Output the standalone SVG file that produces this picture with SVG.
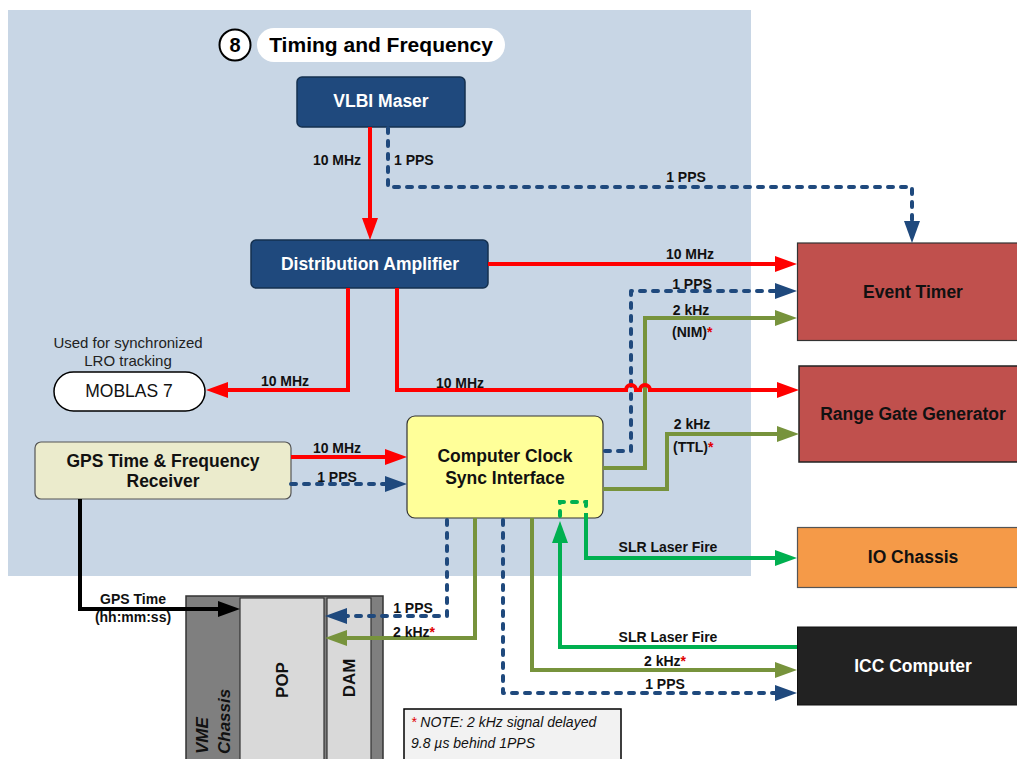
<svg xmlns="http://www.w3.org/2000/svg" width="1017" height="759" viewBox="0 0 1017 759">
<style>
.nt{font-family:"Liberation Sans",Arial,sans-serif;font-weight:bold;font-size:17.5px;text-anchor:middle}
.lb{font-family:"Liberation Sans",Arial,sans-serif;font-weight:bold;font-size:14px;text-anchor:middle;fill:#111}
.lbs{font-family:"Liberation Sans",Arial,sans-serif;font-weight:bold;font-size:14px;fill:#111}
.star{fill:#E00000}
.red{fill:none;stroke:#FF0000;stroke-width:4;stroke-linejoin:miter}
.blue{fill:none;stroke:#1F497D;stroke-width:4;stroke-dasharray:5 8;stroke-linecap:round;stroke-linejoin:round}
.olive{fill:none;stroke:#77933C;stroke-width:4;stroke-linejoin:miter}
.green{fill:none;stroke:#00B050;stroke-width:4;stroke-linejoin:miter}
.greend{fill:none;stroke:#00B050;stroke-width:4;stroke-dasharray:5 8;stroke-linecap:round}
.black{fill:none;stroke:#000;stroke-width:4;stroke-linejoin:miter}
</style>
<defs>
<marker id="aR" markerUnits="userSpaceOnUse" markerWidth="24" markerHeight="18" refX="12" refY="8" orient="auto"><path d="M0,0 L22,8 L0,16 z" fill="#FF0000"/></marker>
<marker id="aB" markerUnits="userSpaceOnUse" markerWidth="24" markerHeight="18" refX="12" refY="8" orient="auto"><path d="M0,0 L22,8 L0,16 z" fill="#1F497D"/></marker>
<marker id="aO" markerUnits="userSpaceOnUse" markerWidth="24" markerHeight="18" refX="12" refY="8" orient="auto"><path d="M0,0 L22,8 L0,16 z" fill="#77933C"/></marker>
<marker id="aG" markerUnits="userSpaceOnUse" markerWidth="24" markerHeight="18" refX="12" refY="8" orient="auto"><path d="M0,0 L22,8 L0,16 z" fill="#00B050"/></marker>
<marker id="aK" markerUnits="userSpaceOnUse" markerWidth="24" markerHeight="18" refX="12" refY="8" orient="auto"><path d="M0,0 L22,8 L0,16 z" fill="#000"/></marker>
</defs>
<rect width="1017" height="759" fill="#FFFFFF"/>
<rect x="8" y="10" width="743" height="566" fill="#C8D6E5"/>

<g id="title">
<circle cx="235" cy="45" r="15.5" fill="#FFF" stroke="#000" stroke-width="2"/>
<text x="235" y="52" class="nt" style="font-size:20px">8</text>
<rect x="257" y="28" width="248" height="34" rx="17" fill="#FFF"/>
<text x="381" y="52" class="nt" style="font-size:21px">Timing and Frequency</text>
</g>

<g id="vlbi-maser">
<rect x="297" y="77" width="168" height="50" rx="5" fill="#1F497D" stroke="#14304F" stroke-width="1.5"/>
<text x="381" y="107" class="nt" fill="#FFF">VLBI Maser</text>
</g>

<g id="distribution-amplifier">
<rect x="251" y="240" width="237" height="48" rx="5" fill="#1F497D" stroke="#14304F" stroke-width="1.5"/>
<text x="370" y="270" class="nt" fill="#FFF">Distribution Amplifier</text>
</g>

<g id="moblas">
<text x="128" y="348" style="font-family:'Liberation Sans',Arial,sans-serif;font-size:15px;text-anchor:middle;fill:#222">Used for synchronized</text>
<text x="128" y="366" style="font-family:'Liberation Sans',Arial,sans-serif;font-size:15px;text-anchor:middle;fill:#222">LRO tracking</text>
<rect x="54" y="372" width="151" height="39" rx="19.5" fill="#FFF" stroke="#000" stroke-width="1.5"/>
<text x="129" y="397" style="font-family:'Liberation Sans',Arial,sans-serif;font-size:17.5px;text-anchor:middle;fill:#111">MOBLAS 7</text>
</g>

<g id="gps-receiver">
<rect x="35" y="442" width="256" height="57" rx="6" fill="#EBEBCC" stroke="#555" stroke-width="1.2"/>
<text x="163" y="467" class="nt" fill="#111">GPS Time &amp; Frequency</text>
<text x="163" y="487" class="nt" fill="#111">Receiver</text>
</g>

<g id="ccsi">
<rect x="407" y="416" width="196" height="102" rx="8" fill="#FFFF99" stroke="#333" stroke-width="1.2"/>
<text x="505" y="462" class="nt" fill="#111">Computer Clock</text>
<text x="505" y="484" class="nt" fill="#111">Sync Interface</text>
</g>

<g id="event-timer">
<rect x="797.5" y="243" width="225" height="97.5" fill="#C0504D" stroke="#333" stroke-width="1.2"/>
<text x="913" y="298" class="nt" fill="#111">Event Timer</text>
</g>

<g id="range-gate">
<rect x="799" y="366" width="225" height="96" fill="#C0504D" stroke="#222" stroke-width="1.5"/>
<text x="913" y="420" class="nt" fill="#111">Range Gate Generator</text>
</g>

<g id="io-chassis">
<rect x="797.5" y="527.5" width="225" height="60" fill="#F59A48" stroke="#555" stroke-width="1.2"/>
<text x="913" y="563" class="nt" fill="#111">IO Chassis</text>
</g>

<g id="icc-computer">
<rect x="797.5" y="627" width="225" height="78" fill="#222222" stroke="#111" stroke-width="1"/>
<text x="913" y="672" class="nt" fill="#FFF">ICC Computer</text>
</g>

<g id="vme-chassis">
<rect x="186" y="596" width="197" height="170" fill="#7F7F7F" stroke="#333" stroke-width="1.5"/>
<rect x="240" y="598" width="84" height="170" fill="#D9D9D9" stroke="#333" stroke-width="1.2"/>
<rect x="327" y="598" width="44" height="170" fill="#D9D9D9" stroke="#333" stroke-width="1.2"/>
<text transform="translate(288,680) rotate(-90)" class="nt" style="font-size:17px" fill="#111">POP</text>
<text transform="translate(355,678) rotate(-90)" class="nt" style="font-size:17px" fill="#111">DAM</text>
<text transform="translate(208,754) rotate(-90)" style="font-family:'Liberation Sans',Arial,sans-serif;font-weight:bold;font-style:italic;font-size:17px;fill:#111">VME</text>
<text transform="translate(230,754) rotate(-90)" style="font-family:'Liberation Sans',Arial,sans-serif;font-weight:bold;font-style:italic;font-size:17px;fill:#111">Chassis</text>
</g>

<g id="note">
<rect x="404" y="709" width="217" height="60" fill="#F2F2F2" stroke="#000" stroke-width="1.5"/>
<text x="411" y="727" style="font-family:'Liberation Sans',Arial,sans-serif;font-style:italic;font-size:14px;fill:#111"><tspan class="star">*</tspan>  NOTE: 2 kHz signal delayed</text>
<text x="411" y="748" style="font-family:'Liberation Sans',Arial,sans-serif;font-style:italic;font-size:14px;fill:#111">9.8 µs behind 1PPS</text>
</g>

<g id="connectors">
<path class="red" d="M370,127 V230" marker-end="url(#aR)"/>
<path class="red" d="M488,264 H787" marker-end="url(#aR)"/>
<path class="red" d="M348,288 V390 H216" marker-end="url(#aR)"/>
<path class="red" d="M291,457 H397" marker-end="url(#aR)"/>
<path class="blue" d="M388,128 V187 H912 V233" marker-end="url(#aB)"/>
<path class="blue" d="M291,484 H397" marker-end="url(#aB)"/>
<path class="blue" d="M605,451 H631 V291 H787" marker-end="url(#aB)"/>
<path class="blue" d="M447,520 V616 H335" marker-end="url(#aB)"/>
<path class="blue" d="M503,520 V693 H787" marker-end="url(#aB)"/>
<path class="olive" d="M603,468 H645 V318 H787" marker-end="url(#aO)"/>
<path class="olive" d="M603,489 H667 V434 H789" marker-end="url(#aO)"/>
<path class="olive" d="M475,518 V638 H335" marker-end="url(#aO)"/>
<path class="olive" d="M532,518 V670 H787" marker-end="url(#aO)"/>
<path class="red" d="M397,288 V390 H626 A5,5 0 0 1 636,390 H640 A5,5 0 0 1 650,390 H789" marker-end="url(#aR)"/>
<path class="green" d="M797,647 H560 V531" marker-end="url(#aG)"/>
<path class="greend" d="M560,516 V502 H586 V511"/>
<path class="green" d="M586,513 V558 H787" marker-end="url(#aG)"/>
<path class="black" d="M80,499 V609 H230" marker-end="url(#aK)"/>
</g>

<g id="labels">
<text x="337" y="165" class="lb">10 MHz</text>
<text x="394" y="165" class="lbs">1 PPS</text>
<text x="686" y="182" class="lb">1 PPS</text>
<text x="690" y="259" class="lb">10 MHz</text>
<text x="692" y="289" class="lb">1 PPS</text>
<text x="691" y="315" class="lb">2 kHz</text>
<text x="672" y="337" class="lbs">(NIM)<tspan class="star">*</tspan></text>
<text x="285" y="386" class="lb">10 MHz</text>
<text x="460" y="388" class="lb">10 MHz</text>
<text x="692" y="429" class="lb">2 kHz</text>
<text x="673" y="452" class="lbs">(TTL)<tspan class="star">*</tspan></text>
<text x="337" y="453" class="lb">10 MHz</text>
<text x="337" y="482" class="lb">1 PPS</text>
<text x="668" y="552" class="lb">SLR Laser Fire</text>
<text x="413" y="613" class="lb">1 PPS</text>
<text x="393" y="637" class="lbs">2 kHz<tspan class="star">*</tspan></text>
<text x="668" y="642" class="lb">SLR Laser Fire</text>
<text x="665" y="666" class="lb">2 kHz<tspan class="star">*</tspan></text>
<text x="665" y="689" class="lb">1 PPS</text>
<text x="133" y="604" class="lb">GPS Time</text>
<text x="133" y="622" class="lb">(hh:mm:ss)</text>
</g>
</svg>
